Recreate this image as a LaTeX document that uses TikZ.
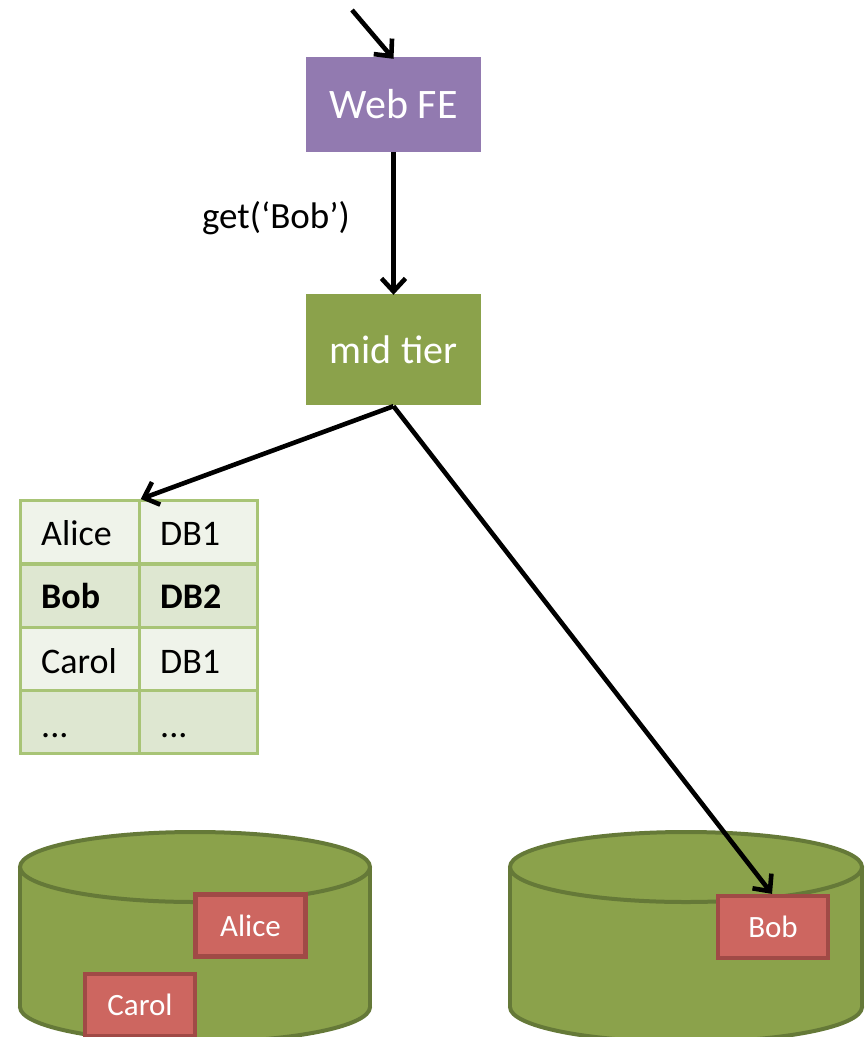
\documentclass[tikz,border=0pt]{standalone}
\usepackage{fontspec}
\setmainfont{Carlito}
\usetikzlibrary{arrows.meta}

\definecolor{fepurple}{RGB}{146,122,176}
\definecolor{olive}{RGB}{139,162,75}
\definecolor{olivedark}{RGB}{101,121,56}
\definecolor{recfill}{RGB}{205,102,96}
\definecolor{recedge}{RGB}{160,74,70}
\definecolor{rowlight}{RGB}{239,243,234}
\definecolor{rowdark}{RGB}{222,231,209}
\definecolor{gridline}{RGB}{168,196,118}

\tikzset{
  tierbox/.style={rectangle, draw=none, text=white, minimum width=175pt, inner sep=0pt},
  flow/.style={line width=4.6pt, -{Straight Barb[length=13pt, width=24pt, line width=4.6pt]}},
  cellbox/.style={rectangle, draw=gridline, line width=3pt, minimum width=118.5pt,
    minimum height=63pt, inner sep=0pt},
  celltext/.style={anchor=base west, inner sep=0pt, font=\fontsize{36}{42}\selectfont},
  record/.style={rectangle, fill=recfill, draw=recedge, line width=4.2pt, text=white,
    minimum width=110pt, minimum height=62pt, inner sep=0pt,
    font=\fontsize{31}{37}\selectfont},
  cylfill/.style={fill=olive},
  cyledge/.style={draw=olivedark, line width=4pt},
}

\begin{document}
\begin{tikzpicture}[x=1pt, y=-1pt]
  \useasboundingbox (0,0) rectangle (867,1037);

  % front end and middle tier
  \node[tierbox, fill=fepurple, minimum height=95pt, font=\fontsize{42}{50}\selectfont] (fe) at (393.5,104.5) {Web FE};
  \node[tierbox, fill=olive, minimum height=111pt, font=\fontsize{40}{48}\selectfont] (mid) at (393.5,349.5) {mid tier};
  \coordinate (client) at (352,10);

  \node[anchor=base east, inner sep=0pt, font=\fontsize{37}{44}\selectfont] (req) at (350,228) {get(‘Bob’)};

  % lookup table
  \foreach \r/\yc/\shade in {1/532/rowlight, 2/595.5/rowdark, 3/658.5/rowlight, 4/721.5/rowdark}{
    \node[cellbox, fill=\shade] (r\r c1) at (80,\yc) {};
    \node[cellbox, fill=\shade] (r\r c2) at (198.5,\yc) {};
  }
  \node[celltext] (t1a) at (41,545) {Alice};
  \node[celltext] (t1b) at (160,545) {DB1};
  \node[celltext] (t2a) at (41,608) {\bfseries Bob};
  \node[celltext] (t2b) at (160,608) {\bfseries DB2};
  \node[celltext] (t3a) at (41,673) {Carol};
  \node[celltext] (t3b) at (160,673) {DB1};
  \node[celltext] (t4a) at (41,737) {...};
  \node[celltext] (t4b) at (160,737) {...};

  \begin{scope}
    \clip (0,0) rectangle (867,1037);
    % database DB1
    \filldraw[cylfill, cyledge] (195,1007) ellipse [x radius=175pt, y radius=35pt];
    \fill[cylfill] (20,867) rectangle (370,1007);
    \draw[cyledge] (20,867) -- (20,1007) (370,867) -- (370,1007);
    \filldraw[cylfill, cyledge] (195,867) ellipse [x radius=175pt, y radius=35pt];

    % database DB2
    \filldraw[cylfill, cyledge] (686,1007) ellipse [x radius=176pt, y radius=35pt];
    \fill[cylfill] (510,867) rectangle (862,1007);
    \draw[cyledge] (510,867) -- (510,1007) (862,867) -- (862,1007);
    \filldraw[cylfill, cyledge] (686,867) ellipse [x radius=176pt, y radius=35pt];

    \node[record] (alice) at (250.5,925.5) {Alice};
    \node[record] (carol) at (140,1005) {Carol};
  \end{scope}
  \node[record] (bob) at (773,927) {Bob};

  % requests
  \draw[flow] (client) -- ([yshift=-2pt]fe.north);
  \draw[flow] (fe.south) -- ([yshift=-1pt]mid.north);
  \draw[flow] ([yshift=-1pt]mid.south) -- (r1c1.north east);
  \draw[flow] ([yshift=-1pt]mid.south) -- ([xshift=-1pt]bob.north);
\end{tikzpicture}
\end{document}
